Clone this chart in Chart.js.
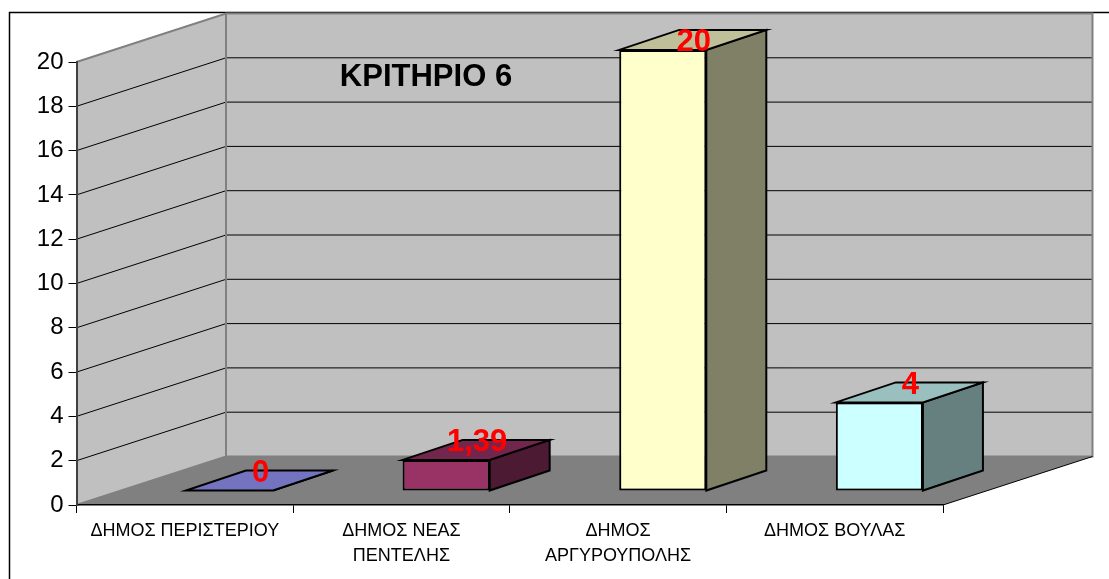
<!DOCTYPE html>
<html lang="el">
<head>
<meta charset="utf-8">
<title>ΚΡΙΤΗΡΙΟ 6</title>
<style>
  html, body { margin: 0; padding: 0; background: #fff; }
  canvas { display: block; }
</style>
<script src="https://cdn.jsdelivr.net/npm/chart.js@4/dist/chart.umd.js"></script>
</head>
<body>
<canvas id="chart" width="1109" height="579"></canvas>
<script>
const chartTitle = 'ΚΡΙΤΗΡΙΟ 6';
const categories = [
  'ΔΗΜΟΣ ΠΕΡΙΣΤΕΡΙΟΥ',
  ['ΔΗΜΟΣ ΝΕΑΣ', 'ΠΕΝΤΕΛΗΣ'],
  ['ΔΗΜΟΣ', 'ΑΡΓΥΡΟΥΠΟΛΗΣ'],
  'ΔΗΜΟΣ ΒΟΥΛΑΣ'
];
const values = [0, 1.39, 20, 4];
const frontColors = ['#9999ff', '#993366', '#ffffcc', '#ccffff'];
const topColors = ['#7373bf', '#73264d', '#bfbf99', '#99bfbf'];
const sideColors = ['#4d4d80', '#4d1a33', '#808066', '#668080'];
const yMin = 0;
const yMax = 20;
const yStep = 2;

// Oblique projection: the walls recede by WALL, the bars stand SHIFT in from
// the front edge of the floor and are DEPTH deep.
const WALL = { x: 149.5, y: -48.5 };
const SHIFT = { x: 44.7, y: -14.5 };
const DEPTH = { x: 60, y: -20 };
const LABEL_OFFSET = { x: 31, y: -17 };
const FONT = '"Liberation Sans", Arial, sans-serif';

function poly(ctx, pts, fill, stroke, width) {
  ctx.beginPath();
  pts.forEach((p, i) => (i ? ctx.lineTo(p[0], p[1]) : ctx.moveTo(p[0], p[1])));
  ctx.closePath();
  if (fill) { ctx.fillStyle = fill; ctx.fill(); }
  if (stroke) { ctx.strokeStyle = stroke; ctx.lineWidth = width; ctx.lineJoin = 'miter'; ctx.stroke(); }
}

const scene3d = {
  id: 'scene3d',
  // Page frame, floor, walls and receding gridlines sit under the axes.
  beforeDraw(chart) {
    const { ctx, chartArea: a, scales } = chart;
    const dx = WALL.x, dy = WALL.y;
    ctx.save();
    ctx.fillStyle = '#fff';
    ctx.fillRect(0, 0, chart.width, chart.height);
    ctx.strokeStyle = '#000';
    ctx.lineWidth = 1.5;
    ctx.beginPath();
    ctx.moveTo(9.5, chart.height);
    ctx.lineTo(9.5, 12.5);
    ctx.lineTo(chart.width, 12.5);
    ctx.stroke();

    poly(ctx, [[a.left, a.bottom], [a.right, a.bottom], [a.right + dx, a.bottom + dy], [a.left + dx, a.bottom + dy]], '#808080');
    poly(ctx, [[a.left, a.bottom], [a.left, a.top], [a.left + dx, a.top + dy], [a.left + dx, a.bottom + dy]], '#c0c0c0');
    poly(ctx, [[a.left + dx, a.top + dy], [a.right + dx, a.top + dy], [a.right + dx, a.bottom + dy], [a.left + dx, a.bottom + dy]], '#c0c0c0');

    ctx.strokeStyle = '#000';
    ctx.lineWidth = 1;
    scales.y.ticks.forEach(t => {
      if (t.value === yMin || t.value === yMax) return;
      const y = scales.y.getPixelForValue(t.value);
      ctx.beginPath();
      ctx.moveTo(a.left, y);
      ctx.lineTo(a.left + dx, y + dy);
      ctx.lineTo(a.right + dx, y + dy);
      ctx.stroke();
    });

    ctx.strokeStyle = '#808080';
    ctx.lineWidth = 2;
    ctx.beginPath();
    ctx.moveTo(a.left, a.top);
    ctx.lineTo(a.left + dx, a.top + dy);
    ctx.lineTo(a.right + dx, a.top + dy);
    ctx.lineTo(a.right + dx, a.bottom + dy);
    ctx.lineTo(a.left + dx, a.bottom + dy);
    ctx.lineTo(a.left, a.bottom);
    ctx.moveTo(a.left + dx, a.top + dy);
    ctx.lineTo(a.left + dx, a.bottom + dy);
    ctx.stroke();

    ctx.strokeStyle = '#000';
    ctx.lineWidth = 1;
    ctx.beginPath();
    ctx.moveTo(a.right, a.bottom);
    ctx.lineTo(a.right + dx, a.bottom + dy);
    ctx.stroke();
    ctx.restore();
  },
  // The library paints each bar's front face inside this translated frame.
  beforeDatasetsDraw(chart) {
    chart.ctx.save();
    chart.ctx.translate(SHIFT.x, SHIFT.y);
  },
  afterDatasetsDraw(chart) {
    const { ctx, chartArea: a } = chart;
    const bars = chart.getDatasetMeta(0).data;
    bars.forEach((bar, i) => {
      const half = bar.width / 2;
      const l = bar.x - half, r = bar.x + half, t = bar.y, b = bar.base;
      poly(ctx, [[r, b], [r, t], [r + DEPTH.x, t + DEPTH.y], [r + DEPTH.x, b + DEPTH.y]], sideColors[i], '#000', 2);
      poly(ctx, [[l, t], [r, t], [r + DEPTH.x, t + DEPTH.y], [l + DEPTH.x, t + DEPTH.y]], topColors[i], '#000', 2);
    });
    ctx.restore();

    // Value labels and the heading float over the bars.
    ctx.save();
    ctx.textAlign = 'center';
    ctx.textBaseline = 'middle';
    ctx.fillStyle = '#ff0000';
    ctx.font = 'bold 31px ' + FONT;
    bars.forEach((bar, i) => {
      const x = bar.x + SHIFT.x + LABEL_OFFSET.x;
      const y = Math.max(bar.y + SHIFT.y + LABEL_OFFSET.y, a.top - 20);
      ctx.fillText(String(values[i]).replace('.', ','), x, y);
    });
    ctx.fillStyle = '#000';
    ctx.font = 'bold 31px ' + FONT;
    ctx.fillText(chartTitle, 426, 77);
    ctx.restore();
  }
};

new Chart(document.getElementById('chart'), {
  type: 'bar',
  data: {
    labels: categories,
    datasets: [{
      data: values,
      yAxisID: 'yBars',
      backgroundColor: frontColors,
      borderColor: '#000',
      borderWidth: 2,
      borderSkipped: false,
      barPercentage: 0.402,
      categoryPercentage: 1,
      clip: false
    }]
  },
  plugins: [scene3d],
  options: {
    responsive: false,
    animation: false,
    devicePixelRatio: 1,
    layout: { padding: { left: 0, right: 166, top: 62, bottom: 0 } },
    plugins: { legend: { display: false }, tooltip: { enabled: false }, title: { display: false } },
    scales: {
      x: {
        offset: true,
        grid: { drawOnChartArea: false, tickLength: 8, color: '#000', tickColor: '#000' },
        border: { color: '#000', width: 1.5 },
        afterFit(scale) { scale.height = 74; },
        ticks: {
          autoSkip: false,
          maxRotation: 0,
          minRotation: 0,
          color: '#000',
          padding: 6,
          font: { family: FONT, size: 18, lineHeight: 1.39 }
        }
      },
      y: {
        min: yMin,
        max: yMax,
        position: 'left',
        grid: { drawOnChartArea: false, tickLength: 8, color: '#000', tickColor: '#000' },
        border: { color: '#404040', width: 2 },
        afterFit(scale) { scale.width = 76.5; },
        ticks: {
          stepSize: yStep,
          color: '#000',
          padding: 5,
          font: { family: FONT, size: 24 }
        }
      },
      // Bars run on a slightly compressed copy of the value scale, as they
      // stand further back in the oblique view than the front axis.
      yBars: { display: false, min: yMin, max: 20.11 }
    }
  }
});
</script>
</body>
</html>
